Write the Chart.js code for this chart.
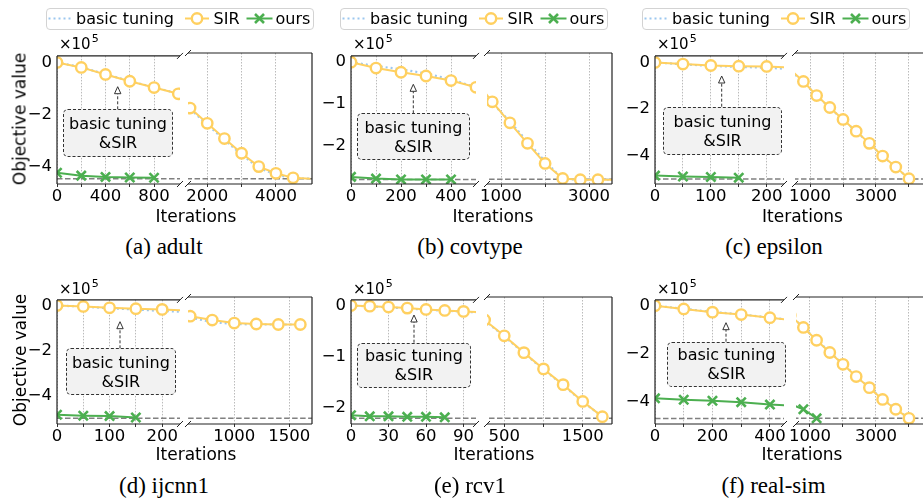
<!DOCTYPE html>
<html><head><meta charset="utf-8"><title>Objective value vs iterations</title>
<script src="https://cdn.jsdelivr.net/npm/chart.js"></script>
<style>
html,body{margin:0;padding:0;background:#fff;}
#fig{position:relative;width:923px;height:500px;overflow:hidden;background:#fff;font-family:'DejaVu Sans',sans-serif;color:#000;}
#fig canvas{position:absolute;}
.t{position:absolute;white-space:nowrap;line-height:1;}
.c{transform:translate(-50%,-50%);}
.cy{transform:translateY(-50%);}
.cap{font-family:'Liberation Serif','Times New Roman',serif;font-size:23px;}
.ax{font-size:17px;}
.rot{transform:translate(-50%,-50%) rotate(-90deg);}
.mul{font-size:15px;}
.mul sup{font-size:11px;vertical-align:0;position:relative;top:-7px;margin-left:1px;}
.leg{position:absolute;height:22px;width:268px;border:1px solid #d3d3d3;border-radius:4px;background:#fff;box-sizing:border-box;}
.leg span{position:absolute;top:50%;transform:translateY(-50%);font-size:16px;line-height:1;white-space:nowrap;}
.leg svg{position:absolute;left:0;top:0;}
.note{position:absolute;box-sizing:border-box;border:1px dashed #333;border-radius:5px;background:#f2f2f2;font-size:16px;line-height:19px;text-align:center;display:flex;flex-direction:column;justify-content:center;}
#arrows{position:absolute;left:0;top:0;pointer-events:none;}
</style></head>
<body><div id="fig"></div>
<script>
// ---------------- data ----------------
const seriesNames = ["basic tuning", "SIR", "ours"];
const captions = ["(a) adult", "(b) covtype", "(c) epsilon", "(d) ijcnn1", "(e) rcv1", "(f) real-sim"];
const xTitle = "Iterations";
const yTitle = "Objective value";
const yMultiplier = ["×10", "5"];
const noteLines = ["basic tuning", "&SIR"];

// (a) adult  (values in units of 1e5)
const adultSirX   = [0, 200, 400, 600, 800, 1000, 1500, 2000, 2500, 3000, 3500, 4000, 4500, 5000];
const adultSirY   = [0, -0.19, -0.46, -0.72, -0.96, -1.20, -1.81, -2.38, -2.95, -3.50, -4.00, -4.25, -4.42, -4.45];
const adultBasicY = [0, -0.18, -0.45, -0.71, -0.95, -1.19, -1.84, -2.43, -3.00, -3.55, -4.05, -4.30, -4.44, -4.45];
const adultOursX  = [0, 200, 400, 600, 800];
const adultOursY  = [-4.22, -4.33, -4.38, -4.40, -4.41];
const adultOptimum = -4.45;
const adultTicksL = [0, 200, 400, 600, 800], adultLabelsL = [0, 400, 800];
const adultTicksR = [2000, 3000, 4000], adultLabelsR = [2000, 4000];
const adultYTicks = [-4, -2, 0];

// (b) covtype
const covtypeSirX   = [0, 100, 200, 300, 400, 500, 800, 1200, 1600, 2000, 2400, 2800, 3200, 3600];
const covtypeSirY   = [0, -0.14, -0.24, -0.33, -0.44, -0.60, -0.99, -1.48, -1.96, -2.43, -2.78, -2.81, -2.81, -2.81];
const covtypeBasicY = [0, -0.09, -0.17, -0.27, -0.41, -0.60, -1.02, -1.45, -1.92, -2.38, -2.79, -2.81, -2.81, -2.81];
const covtypeOursX  = [0, 100, 200, 300, 400];
const covtypeOursY  = [-2.74, -2.78, -2.80, -2.80, -2.80];
const covtypeOptimum = -2.80;
const covtypeTicksL = [0, 100, 200, 300, 400], covtypeLabelsL = [0, 200, 400];
const covtypeTicksR = [1000, 2000, 3000], covtypeLabelsR = [1000, 3000];
const covtypeYTicks = [-2, -1, 0];

// (c) epsilon
const epsilonSirX   = [0, 50, 100, 150, 200, 800, 1200, 1600, 2000, 2400, 2800, 3200, 3600, 4000];
const epsilonSirY   = [0, -0.07, -0.13, -0.16, -0.17, -0.91, -1.50, -2.00, -2.50, -2.99, -3.50, -4.03, -4.49, -4.98];
const epsilonBasicY = [0, -0.08, -0.15, -0.19, -0.23, -0.92, -1.51, -2.01, -2.51, -3.00, -3.51, -4.04, -4.50, -4.98];
const epsilonOursX  = [0, 50, 100, 150];
const epsilonOursY  = [-4.84, -4.88, -4.90, -4.93];
const epsilonOptimum = -4.99;
const epsilonTicksL = [0, 50, 100, 150, 200], epsilonLabelsL = [0, 100, 200];
const epsilonTicksR = [1000, 2000, 3000, 4000], epsilonLabelsR = [1000, 3000];
const epsilonYTicks = [-4, -2, 0];

// (d) ijcnn1
const ijcnn1SirX   = [0, 50, 100, 150, 200, 600, 800, 1000, 1200, 1400, 1600];
const ijcnn1SirY   = [0, -0.04, -0.10, -0.14, -0.17, -0.58, -0.75, -0.88, -0.92, -0.94, -0.94];
const ijcnn1BasicY = [0, -0.05, -0.12, -0.18, -0.24, -0.64, -0.84, -0.92, -0.94, -0.94, -0.94];
const ijcnn1OursX  = [0, 50, 100, 150];
const ijcnn1OursY  = [-4.84, -4.88, -4.90, -4.96];
const ijcnn1Optimum = -5.0;
const ijcnn1TicksL = [0, 50, 100, 150, 200], ijcnn1LabelsL = [0, 100, 200];
const ijcnn1TicksR = [1000, 1500], ijcnn1LabelsR = [1000, 1500];
const ijcnn1YTicks = [-4, -2, 0];

// (e) rcv1
const rcv1SirX   = [0, 15, 30, 45, 60, 75, 90, 250, 500, 750, 1000, 1250, 1500, 1750];
const rcv1SirY   = [0, -0.013, -0.03, -0.05, -0.076, -0.095, -0.114, -0.33, -0.63, -0.95, -1.26, -1.56, -1.88, -2.17];
const rcv1BasicY = [0, -0.016, -0.036, -0.056, -0.082, -0.10, -0.12, -0.34, -0.64, -0.96, -1.27, -1.57, -1.89, -2.17];
const rcv1OursX  = [0, 15, 30, 45, 60, 75];
const rcv1OursY  = [-2.14, -2.16, -2.16, -2.17, -2.17, -2.18];
const rcv1Optimum = -2.20;
const rcv1TicksL = [0, 30, 60, 90], rcv1LabelsL = [0, 30, 60, 90];
const rcv1TicksR = [500, 1000, 1500], rcv1LabelsR = [500, 1500];
const rcv1YTicks = [-2, -1, 0];

// (f) real-sim
const realsimSirX   = [0, 100, 200, 300, 400, 800, 1200, 1600, 2000, 2400, 2800, 3200, 3600, 4000];
const realsimSirY   = [0, -0.135, -0.27, -0.37, -0.50, -1.00, -1.52, -2.02, -2.50, -3.00, -3.45, -3.93, -4.33, -4.70];
const realsimBasicY = [0, -0.13, -0.26, -0.36, -0.50, -1.00, -1.50, -2.00, -2.48, -2.98, -3.45, -3.92, -4.32, -4.70];
const realsimOursX  = [0, 100, 200, 300, 400, 800, 1200];
const realsimOursY  = [-3.86, -3.92, -3.96, -4.02, -4.12, -4.33, -4.70];
const realsimOptimum = -4.70;
const realsimTicksL = [0, 100, 200, 300, 400], realsimLabelsL = [0, 200, 400];
const realsimTicksR = [1000, 2000, 3000, 4000], realsimLabelsR = [1000, 3000];
const realsimYTicks = [-4, -2, 0];

// ---------------- assemble ----------------
const subplots = [
  {sirX: adultSirX, sirY: adultSirY, basicY: adultBasicY, oursX: adultOursX, oursY: adultOursY, opt: adultOptimum,
   ticksL: adultTicksL, labelsL: adultLabelsL, ticksR: adultTicksR, labelsR: adultLabelsR, yTicks: adultYTicks},
  {sirX: covtypeSirX, sirY: covtypeSirY, basicY: covtypeBasicY, oursX: covtypeOursX, oursY: covtypeOursY, opt: covtypeOptimum,
   ticksL: covtypeTicksL, labelsL: covtypeLabelsL, ticksR: covtypeTicksR, labelsR: covtypeLabelsR, yTicks: covtypeYTicks},
  {sirX: epsilonSirX, sirY: epsilonSirY, basicY: epsilonBasicY, oursX: epsilonOursX, oursY: epsilonOursY, opt: epsilonOptimum,
   ticksL: epsilonTicksL, labelsL: epsilonLabelsL, ticksR: epsilonTicksR, labelsR: epsilonLabelsR, yTicks: epsilonYTicks},
  {sirX: ijcnn1SirX, sirY: ijcnn1SirY, basicY: ijcnn1BasicY, oursX: ijcnn1OursX, oursY: ijcnn1OursY, opt: ijcnn1Optimum,
   ticksL: ijcnn1TicksL, labelsL: ijcnn1LabelsL, ticksR: ijcnn1TicksR, labelsR: ijcnn1LabelsR, yTicks: ijcnn1YTicks},
  {sirX: rcv1SirX, sirY: rcv1SirY, basicY: rcv1BasicY, oursX: rcv1OursX, oursY: rcv1OursY, opt: rcv1Optimum,
   ticksL: rcv1TicksL, labelsL: rcv1LabelsL, ticksR: rcv1TicksR, labelsR: rcv1LabelsR, yTicks: rcv1YTicks},
  {sirX: realsimSirX, sirY: realsimSirY, basicY: realsimBasicY, oursX: realsimOursX, oursY: realsimOursY, opt: realsimOptimum,
   ticksL: realsimTicksL, labelsL: realsimLabelsL, ticksR: realsimTicksR, labelsR: realsimLabelsR, yTicks: realsimYTicks}
];

// ---------------- layout & style ----------------
const YELLOW = '#FFD060', GREEN = '#4CAF50', BLUE = '#9CC7EF', OPTC = '#808080';
const ROWS = [
  {T: 53, B: 184, capY: 245.5, itY: 215.5, mulY: 43.5, ylabY: 118.5},
  {T: 297, B: 424, capY: 485, itY: 454, mulY: 288.5, ylabY: 360}
];
const FRAMES = [
  {row: 0, L1: 57, R1: 180, L2: 188, R2: 312, xL: [0, 1014], xR: [1440, 5050], y: [-4.65, 0.25], sirTail: 1,
   legend: 46, capX: 164, itX: 196, mulX: 59, note: [62.7, 109.3, 173.3, 156.7], arrow: [117.7, 86.7]},
  {row: 0, L1: 351, R1: 476, L2: 487, R2: 612, xL: [0, 500], xR: [680, 3520], y: [-2.91, 0.15], sirTail: 1,
   legend: 340, capX: 470, itX: 493, mulX: 353, note: [356.7, 113.3, 470, 160], arrow: [413.3, 84.3]},
  {row: 0, L1: 655, R1: 784, L2: 795, R2: 940, xL: [0, 231], xR: [545, 4940], y: [-5.2, 0.28], sirTail: 0,
   legend: 642, capX: 774, itX: 802.5, mulX: 657, note: [663.3, 106.7, 781.7, 155], arrow: [721.7, 76]},
  {row: 1, L1: 57, R1: 180, L2: 188, R2: 312, xL: [0, 234], xR: [580, 1706], y: [-5.25, 0.25], sirTail: 0,
   capX: 164, itX: 196, mulX: 59, note: [65.7, 348.3, 176, 395], arrow: [120, 321.7]},
  {row: 1, L1: 351, R1: 476, L2: 487, R2: 612, xL: [0, 100], xR: [280, 1873], y: [-2.31, 0.11], sirTail: 0,
   capX: 470, itX: 494, mulX: 353, note: [356.7, 342.7, 471, 387.7], arrow: [414, 315]},
  {row: 1, L1: 655, R1: 784, L2: 796, R2: 940, xL: [0, 449], xR: [576, 4940], y: [-4.93, 0.24], sirTail: 0,
   capX: 773.5, itX: 802, mulX: 657, note: [667.3, 341.7, 785.7, 386.7], arrow: [726, 322.7]}
];

Chart.defaults.font.family = "'DejaVu Sans', sans-serif";
const fig = document.getElementById('fig');

const framePlugin = {
  id: 'frame',
  afterDraw(chart, args, opts) {
    const {ctx, chartArea: a} = chart;
    ctx.save();
    ctx.strokeStyle = '#222';
    ctx.lineWidth = 1.2;
    ctx.beginPath();
    ctx.moveTo(a.left, a.top); ctx.lineTo(a.right, a.top);
    ctx.moveTo(a.left, a.bottom); ctx.lineTo(a.right, a.bottom);
    if (opts.side === 'L') { ctx.moveTo(a.left, a.top); ctx.lineTo(a.left, a.bottom); }
    else { ctx.moveTo(a.right, a.top); ctx.lineTo(a.right, a.bottom); }
    ctx.stroke();
    const bx = opts.side === 'L' ? a.right : a.left;
    const d = 3;
    ctx.lineWidth = 1;
    ctx.beginPath();
    [a.top, a.bottom].forEach(by => { ctx.moveTo(bx - d, by + d); ctx.lineTo(bx + d, by - d); });
    ctx.stroke();
    ctx.restore();
  }
};

function pts(xs, ys) { return xs.map((x, i) => ({x: x, y: ys[i]})); }

function makePanel(sp, fr, side) {
  const row = ROWS[fr.row];
  const isL = side === 'L';
  const L = isL ? fr.L1 : fr.L2, R = isL ? fr.R1 : fr.R2;
  const padL = isL ? 60 : 22, padR = 22, padT = 12, padB = 30;
  const W = R - L + padL + padR, H = row.B - row.T + padT + padB;
  const cv = document.createElement('canvas');
  cv.width = W; cv.height = H;
  cv.style.left = (L - padL) + 'px'; cv.style.top = (row.T - padT) + 'px';
  cv.style.width = W + 'px'; cv.style.height = H + 'px';
  fig.appendChild(cv);
  const xr = isL ? fr.xL : fr.xR;
  const ticks = isL ? sp.ticksL : sp.ticksR;
  const labels = isL ? sp.labelsL : sp.labelsR;
  const nMarked = sp.sirX.length - fr.sirTail;
  new Chart(cv, {
    type: 'line',
    data: {datasets: [
      {label: seriesNames[2], data: pts(sp.oursX, sp.oursY), borderColor: GREEN, borderWidth: 2,
       pointStyle: 'crossRot', pointRadius: 6.5, pointBorderWidth: 2.6, pointBorderColor: GREEN,
       pointBackgroundColor: GREEN, clip: 0},
      {label: seriesNames[1], data: pts(sp.sirX, sp.sirY), borderColor: YELLOW, borderWidth: 2,
       pointStyle: 'circle', pointRadius: c => (c.dataIndex < nMarked ? 5.2 : 0), pointBorderWidth: 2.4,
       pointBorderColor: YELLOW, pointBackgroundColor: '#ffffff', clip: 0},
      {label: seriesNames[0], data: pts(sp.sirX, sp.basicY), borderColor: BLUE, borderWidth: 2.2,
       borderDash: [2, 3], pointRadius: 0, clip: 0},
      {label: 'optimum', data: [{x: fr.xL[0], y: sp.opt}, {x: fr.xR[1], y: sp.opt}], borderColor: OPTC,
       borderWidth: 1.5, borderDash: [5.5, 2.5], pointRadius: 0, clip: 0}
    ]},
    options: {
      responsive: false, animation: false, devicePixelRatio: 1, events: [],
      layout: {padding: {left: 0, right: padR, top: padT, bottom: 0}},
      plugins: {legend: {display: false}, tooltip: {enabled: false}, frame: {side: side}},
      scales: {
        x: {type: 'linear', min: xr[0], max: xr[1],
            afterBuildTicks: s => { s.ticks = ticks.map(v => ({value: v})); },
            afterFit: s => { s.height = padB; },
            ticks: {autoSkip: false, maxRotation: 0, minRotation: 0, padding: 0, color: '#000',
                    font: {size: 16.5}, callback: v => (labels.includes(v) ? String(v) : '')},
            grid: {display: true, color: '#aaaaaa', lineWidth: 0.8, drawTicks: true, tickLength: 3,
                   tickColor: '#333', tickWidth: 1},
            border: {display: false, dash: [1.5, 1.5]}},
        y: {type: 'linear', min: fr.y[0], max: fr.y[1],
            afterBuildTicks: s => { s.ticks = sp.yTicks.map(v => ({value: v})); },
            afterFit: s => { s.width = padL; },
            ticks: {display: isL, padding: 5, color: '#000', font: {size: 16.5},
                    callback: v => (v < 0 ? '\u2212' : '') + Math.abs(v)},
            grid: {display: false, drawTicks: false, tickLength: 0}, border: {display: false}}
      }
    },
    plugins: [framePlugin]
  });
}

function addText(cls, html, left, top) {
  const d = document.createElement('div');
  d.className = 't ' + cls;
  d.innerHTML = html;
  d.style.left = left + 'px'; d.style.top = top + 'px';
  fig.appendChild(d);
  return d;
}
function esc(s) { return s.replace(/&/g, '&amp;').replace(/</g, '&lt;'); }

subplots.forEach((sp, i) => {
  const fr = FRAMES[i];
  makePanel(sp, fr, 'L');
  makePanel(sp, fr, 'R');
});

// texts, notes, legends
const svgNS = 'http://www.w3.org/2000/svg';
const arrows = document.createElementNS(svgNS, 'svg');
arrows.setAttribute('id', 'arrows'); arrows.setAttribute('width', 923); arrows.setAttribute('height', 500);

subplots.forEach((sp, i) => {
  const fr = FRAMES[i], row = ROWS[fr.row];
  addText('cap c', esc(captions[i]), fr.capX, row.capY);
  addText('ax c', esc(xTitle), fr.itX, row.itY);
  addText('mul cy', esc(yMultiplier[0]) + '<sup>' + yMultiplier[1] + '</sup>', fr.mulX, row.mulY);
  if (fr.L1 < 100) addText('ax rot', esc(yTitle), 20, row.ylabY);
  // annotation box
  const n = document.createElement('div');
  n.className = 'note';
  n.style.left = fr.note[0] + 'px'; n.style.top = fr.note[1] + 'px';
  n.style.width = (fr.note[2] - fr.note[0]) + 'px'; n.style.height = (fr.note[3] - fr.note[1]) + 'px';
  n.innerHTML = noteLines.map(s => '<div>' + esc(s) + '</div>').join('');
  fig.appendChild(n);
  // arrow
  const ax = fr.arrow[0], tip = fr.arrow[1], hb = tip + 7;
  const ln = document.createElementNS(svgNS, 'line');
  ln.setAttribute('x1', ax); ln.setAttribute('x2', ax); ln.setAttribute('y1', fr.note[1]); ln.setAttribute('y2', hb);
  ln.setAttribute('stroke', '#333'); ln.setAttribute('stroke-width', '1'); ln.setAttribute('stroke-dasharray', '3,2');
  arrows.appendChild(ln);
  const hd = document.createElementNS(svgNS, 'polygon');
  hd.setAttribute('points', (ax - 3.2) + ',' + hb + ' ' + (ax + 3.2) + ',' + hb + ' ' + ax + ',' + tip);
  hd.setAttribute('fill', '#fff'); hd.setAttribute('stroke', '#333'); hd.setAttribute('stroke-width', '1');
  arrows.appendChild(hd);
  // legend
  if (fr.legend !== undefined) {
    const lg = document.createElement('div');
    lg.className = 'leg';
    lg.style.left = fr.legend + 'px'; lg.style.top = '8px';
    lg.innerHTML =
      '<svg width="266" height="20">' +
      '<line x1="1.5" y1="9.5" x2="23.5" y2="9.5" stroke="' + BLUE + '" stroke-width="2.2" stroke-dasharray="2,3"/>' +
      '<line x1="138" y1="9.5" x2="162" y2="9.5" stroke="' + YELLOW + '" stroke-width="2"/>' +
      '<circle cx="150" cy="9.5" r="5.2" fill="#fff" stroke="' + YELLOW + '" stroke-width="2.4"/>' +
      '<line x1="199.5" y1="9.5" x2="225.5" y2="9.5" stroke="' + GREEN + '" stroke-width="2"/>' +
      '<path d="M208 5 L217 14 M217 5 L208 14" stroke="' + GREEN + '" stroke-width="2.6"/>' +
      '</svg>' +
      '<span style="left:29px">' + esc(seriesNames[0]) + '</span>' +
      '<span style="left:166.5px">' + esc(seriesNames[1]) + '</span>' +
      '<span style="left:228.5px">' + esc(seriesNames[2]) + '</span>';
    fig.appendChild(lg);
  }
});
fig.appendChild(arrows);
</script>
</body></html>
